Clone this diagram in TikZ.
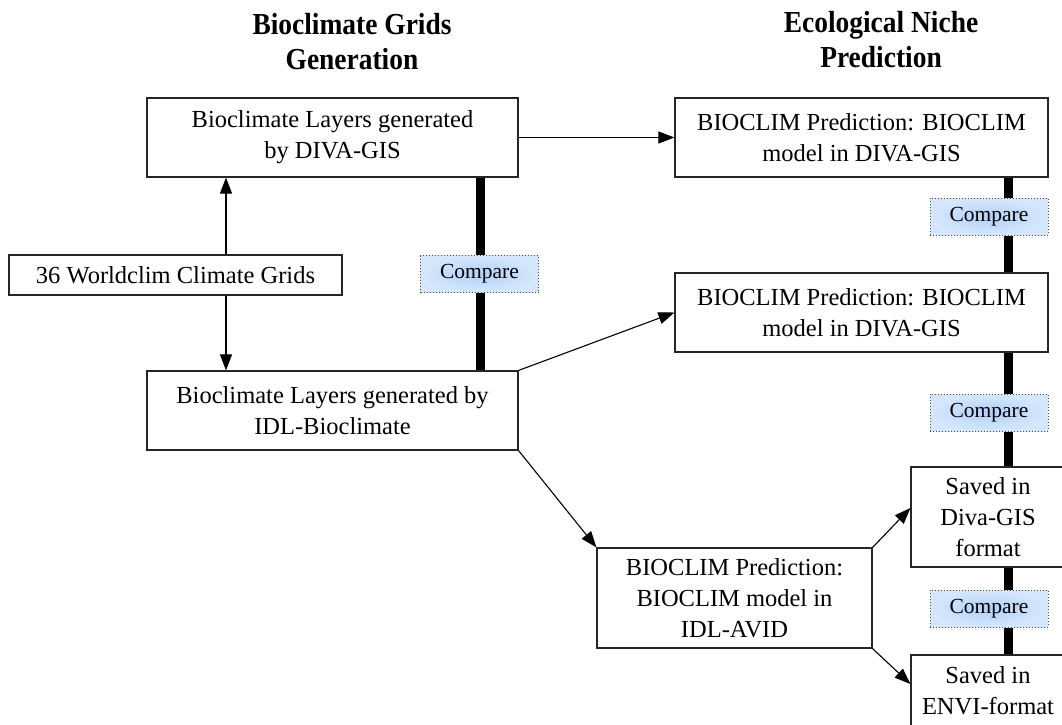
\documentclass[tikz,border=0pt]{standalone}
\usepackage{fontspec}
\setmainfont{Liberation Serif}
\newfontfamily\hdrfont[FakeStretch=0.9]{Liberation Serif}
\usetikzlibrary{arrows.meta}
\definecolor{cmpin}{RGB}{176,208,248}
\definecolor{cmpout}{RGB}{214,231,252}
\begin{document}
\begin{tikzpicture}[x=1pt,y=-1pt,
  box/.style={draw=black!85, line width=1.2pt, fill=white, align=center, inner sep=0pt,
    font=\fontsize{24.5}{31}\selectfont},
  cmp/.style={draw=black!70, dotted, line width=1pt, inner color=cmpin, outer color=cmpout,
    minimum width=118pt, minimum height=37pt, inner sep=0pt, font=\fontsize{21.5}{24}\selectfont},
  arr/.style={-{Triangle[length=16pt,width=12pt]}, line width=1.1pt},
  thickln/.style={line width=9pt},
  hdr/.style={align=center, font=\hdrfont\fontsize{30.5}{35}\selectfont\bfseries}]
\useasboundingbox (0,0) rectangle (1062,724);

% headers
\node[hdr] (h1) at (352,42) {Bioclimate Grids\\Generation};
\node[hdr] (h2) at (881,40) {Ecological Niche\\Prediction};

% guide coordinates
\coordinate (L) at (480,0);
\coordinate (R) at (1008,0);
\coordinate (A) at (226,0);

% boxes
\node[box, minimum width=371pt, minimum height=79pt] (b1) at (332.5,137.5) {Bioclimate Layers generated\\by DIVA-GIS};
\node[box, minimum width=333pt, minimum height=40pt] (w) at (175.5,275) {36 Worldclim Climate Grids};
\node[box, minimum width=371pt, minimum height=79pt] (b3) at (332.5,410.5) {Bioclimate Layers generated by\\IDL-Bioclimate};
\node[box, minimum width=373pt, minimum height=79pt] (r1) at (861.5,137.5) {BIOCLIM Prediction: BIOCLIM\\model in DIVA-GIS};
\node[box, minimum width=373pt, minimum height=79pt] (r2) at (861.5,312.5) {BIOCLIM Prediction: BIOCLIM\\model in DIVA-GIS};
\node[box, minimum width=275pt, minimum height=100pt] (r3) at (734.5,598) {BIOCLIM Prediction:\\BIOCLIM model in\\IDL-AVID};
\node[box, minimum width=154pt, minimum height=100pt] (r4) at (988,517) {Saved in\\Diva-GIS\\format};
\node[box, minimum width=154pt, minimum height=72pt] (r5) at (988,691) {Saved in\\ENVI-format};

% thick compare bars
\draw[thickln] (L |- b1.south) -- (L |- b3.north);
\draw[thickln] (R |- r1.south) -- (R |- r2.north);
\draw[thickln] (R |- r2.south) -- (R |- r4.north);
\draw[thickln] (R |- r4.south) -- (R |- r5.north);

% compare labels
\node[cmp] (c1) at (479.5,274) {Compare};
\node[cmp] (c2) at (989,216.5) {Compare};
\node[cmp] (c3) at (989,412.5) {Compare};
\node[cmp] (c4) at (989,608.5) {Compare};

% arrows
\draw[arr] (A |- w.north) -- (A |- b1.south);
\draw[arr] (A |- w.south) -- (A |- b3.north);
\draw[arr] (b1.east) -- (r1.west);
\draw[arr] (b3.north east) -- (r2.west);
\draw[arr] (b3.south east) -- (r3.north west);
\draw[arr] (r3.north east) -- ([yshift=9pt]r4.west);
\draw[arr] (r3.south east) -- ([yshift=7pt]r5.west);
\end{tikzpicture}
\end{document}
